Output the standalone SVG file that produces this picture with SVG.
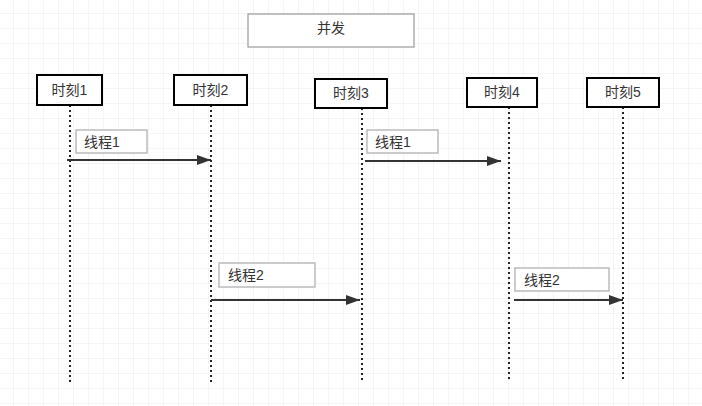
<svg xmlns="http://www.w3.org/2000/svg" width="702" height="406" viewBox="0 0 702 406">
<defs>
<pattern id="g" width="15" height="15" patternUnits="userSpaceOnUse" x="-1" y="-1"><path d="M15 0V15H0" fill="none" stroke="#ebebeb" stroke-width="1"/></pattern>
<marker id="a" markerWidth="15" markerHeight="10" refX="14" refY="5" orient="auto" markerUnits="userSpaceOnUse"><path d="M0 0L14 5L0 10z" fill="#333"/></marker>
</defs>
<style>
text{font-family:"Liberation Sans","Noto Sans CJK SC",sans-serif;font-size:14px;fill:#333}
.n{fill:#fff;stroke:#000;stroke-width:2}
.l{fill:#fff;stroke:#bbb;stroke-width:1.5}
.ll{stroke:#222;stroke-width:2;stroke-dasharray:2 3}
.ar{stroke:#333;stroke-width:2;marker-end:url(#a)}
</style>
<rect width="702" height="406" fill="#fff"/>
<rect width="702" height="406" fill="url(#g)"/>
<g id="title"><rect x="248" y="14" width="166" height="33" fill="#fff" stroke="#999" stroke-width="1.2"/><text x="331" y="33" text-anchor="middle">并发</text></g>
<g id="connectors">
<line class="ll" x1="70" y1="105" x2="70" y2="382"/>
<line class="ll" x1="211" y1="105" x2="211" y2="382"/>
<line class="ll" x1="362" y1="108" x2="362" y2="382"/>
<line class="ll" x1="509" y1="107" x2="509" y2="382"/>
<line class="ll" x1="623" y1="107" x2="623" y2="382"/>
<line class="ar" x1="67" y1="160" x2="211" y2="160"/>
<line class="ar" x1="365" y1="161" x2="501" y2="161"/>
<line class="ar" x1="211" y1="300" x2="360" y2="300"/>
<line class="ar" x1="514" y1="300" x2="623" y2="300"/>
</g>
<g id="t1"><rect class="n" x="37" y="75" width="65" height="30"/><text x="69.5" y="95" text-anchor="middle">时刻1</text></g>
<g id="t2"><rect class="n" x="174" y="75" width="73" height="30"/><text x="210.5" y="95" text-anchor="middle">时刻2</text></g>
<g id="t3"><rect class="n" x="315" y="79" width="72" height="29"/><text x="351" y="98" text-anchor="middle">时刻3</text></g>
<g id="t4"><rect class="n" x="467" y="78" width="70" height="29"/><text x="502" y="97" text-anchor="middle">时刻4</text></g>
<g id="t5"><rect class="n" x="587" y="78" width="72" height="29"/><text x="623" y="97" text-anchor="middle">时刻5</text></g>
<g id="l1"><rect class="l" x="76" y="130" width="71" height="23"/><text x="84" y="147">线程1</text></g>
<g id="l2"><rect class="l" x="367" y="130" width="71" height="23"/><text x="375" y="147">线程1</text></g>
<g id="l3"><rect class="l" x="219" y="263" width="96" height="24"/><text x="228" y="280">线程2</text></g>
<g id="l4"><rect class="l" x="515" y="268" width="94" height="23"/><text x="524" y="285">线程2</text></g>
</svg>
